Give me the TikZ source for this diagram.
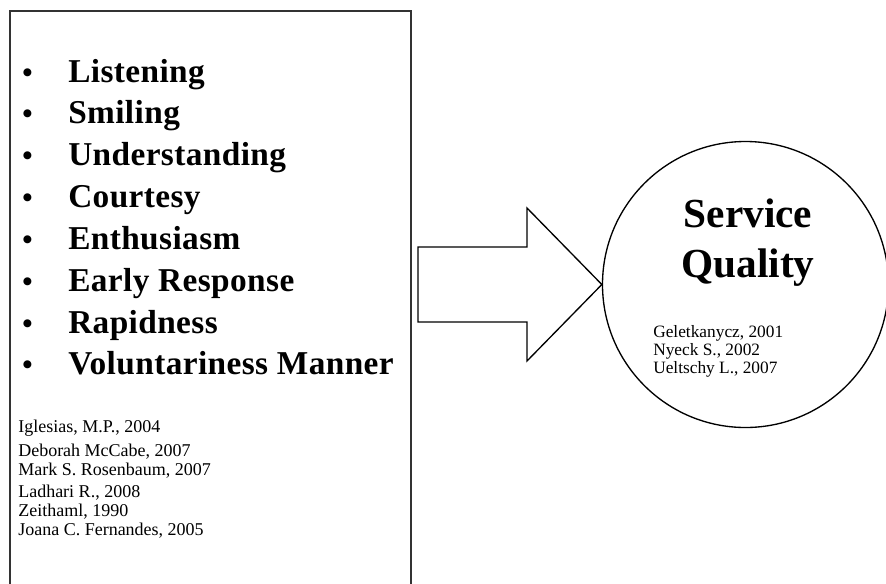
\documentclass[tikz,border=0pt]{standalone}
\usepackage{fontspec}
\setmainfont{Liberation Serif}
\tikzset{
  itemtext/.style={anchor=base west, inner sep=0pt, font=\fontsize{25}{29}\selectfont\bfseries\addfontfeatures{LetterSpace=1.2}},
  bulletmark/.style={anchor=base west, inner sep=0pt, font=\fontsize{22}{26}\selectfont\bfseries},
  reftext/.style={anchor=base west, inner sep=0pt, font=\fontsize{13.5}{16}\selectfont},
  titletext/.style={anchor=base, inner sep=0pt, font=\fontsize{31}{36}\selectfont\bfseries},
}
\begin{document}
\begin{tikzpicture}[x=0.75pt,y=-0.75pt]
    \useasboundingbox (0,0) rectangle (886,583);
    % factor box (runs past the lower edge)
    \node[draw=black!80, line width=1.4pt, anchor=north west, minimum width=301pt, minimum height=450pt, inner sep=0pt] (factors) at (9,10) {};
    \foreach \txt [count=\i from 0] in {Listening, Smiling, Understanding, Courtesy, Enthusiasm, Early Response, Rapidness, Voluntariness Manner} {
        \node[bulletmark] (bul\i) at (22, {82+41.85*\i}) {•};
        \node[itemtext] (item\i) at (68, {82+41.85*\i}) {\txt};
    }
    \foreach \y/\txt [count=\i] in {432/{Iglesias, M.P., 2004}, 456/{Deborah McCabe, 2007}, 475/{Mark S. Rosenbaum, 2007}, 497/{Ladhari R., 2008}, 516/{Zeithaml, 1990}, 535/{Joana C. Fernandes, 2005}} {
        \node[reftext] (ref\i) at (18, \y) {\txt};
    }
    % quality circle
    \node[circle, draw, line width=1pt, minimum size=214.5pt, inner sep=0pt] (quality) at (745.5,284.5) {};
    \node[titletext] (serv) at (748,227) {Service};
    \node[titletext] (qual) at (748,277) {Quality};
    \foreach \y/\txt [count=\i] in {337/{Geletkanycz, 2001}, 355/{Nyeck S., 2002}, 373/{Ueltschy L., 2007}} {
        \node[reftext, font=\fontsize{13}{15}\selectfont] (qref\i) at (653, \y) {\txt};
    }
    % block arrow
    \draw[line width=1pt, line join=miter] (418,247) -- (527,247) -- (527,208) -- (quality.west) -- (527,361) -- (527,322) -- (418,322) -- cycle;
\end{tikzpicture}
\end{document}
